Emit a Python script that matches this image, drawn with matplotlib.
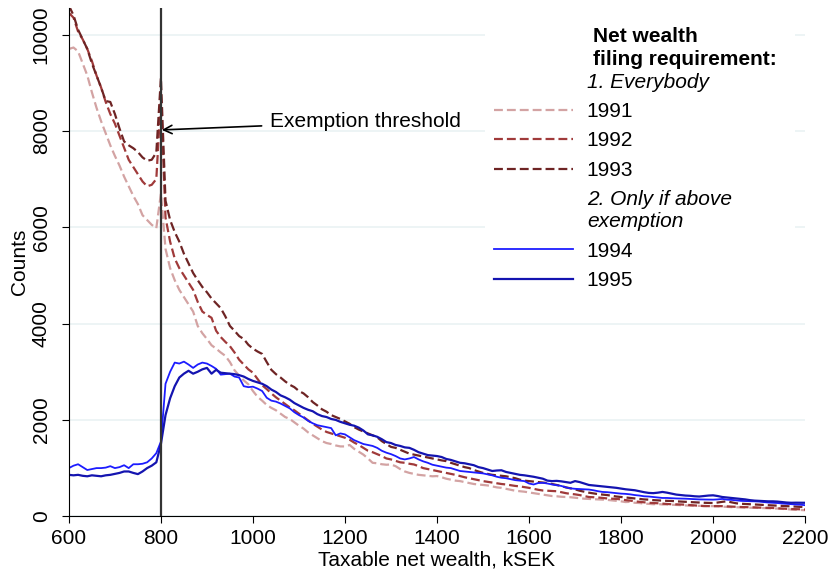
import numpy as np
import matplotlib.pyplot as plt
from matplotlib.lines import Line2D
from matplotlib.patches import Rectangle

plt.rcParams['font.family'] = ['Liberation Sans', 'DejaVu Sans']

# taxable net wealth bins, kSEK (10 kSEK wide)
wealth = np.arange(600, 2201, 10)

counts_1991 = [
    9700, 9730, 9650, 9400, 9150, 8800, 8480, 8200, 7950, 7700,
    7480, 7280, 7050, 6850, 6650, 6480, 6250, 6150, 6050, 5980,
    6700, 5550, 5150, 4900, 4700, 4550, 4400, 4250, 3950, 3800,
    3680, 3550, 3480, 3400, 3330, 3200, 3030, 2920, 2820, 2740,
    2600, 2480, 2400, 2310, 2250, 2200, 2130, 2060, 2020, 1950,
    1880, 1820, 1740, 1680, 1620, 1560, 1520, 1500, 1470, 1450,
    1450, 1480, 1400, 1340, 1280, 1200, 1110, 1100, 1080, 1070,
    1075, 1040, 980, 930, 900, 880, 860, 850, 840, 830,
    835, 810, 780, 760, 740, 730, 710, 690, 670, 660,
    650, 640, 620, 600, 590, 570, 550, 530, 520, 510,
    495, 480, 465, 450, 435, 420, 415, 405, 400, 395,
    385, 375, 365, 360, 355, 350, 345, 340, 330, 320,
    310, 295, 300, 280, 275, 262, 258, 250, 255, 245,
    245, 240, 235, 230, 225, 220, 218, 215, 212, 210,
    210, 205, 200, 195, 190, 188, 185, 180, 178, 175,
    172, 170, 165, 162, 160, 155, 148, 140, 135, 130,
    125]

counts_1992 = [
    10450, 10350, 10060, 9900, 9700, 9450, 9150, 8900, 8600, 8350,
    8150, 7900, 7650, 7400, 7250, 7100, 6950, 6850, 6880, 7000,
    8700, 6200, 5700, 5350, 5150, 5000, 4850, 4700, 4450, 4250,
    4180, 4120, 3850, 3720, 3620, 3530, 3400, 3250, 3150, 3050,
    2980, 2850, 2720, 2640, 2550, 2470, 2400, 2330, 2260, 2200,
    2130, 2060, 1990, 1920, 1860, 1800, 1750, 1720, 1690, 1660,
    1630, 1590, 1530, 1480, 1420, 1360, 1330, 1290, 1250, 1200,
    1180, 1150, 1120, 1110, 1090, 1075, 1040, 1000, 980, 960,
    940, 920, 900, 880, 860, 835, 810, 790, 770, 750,
    730, 715, 700, 685, 670, 660, 645, 630, 620, 605,
    590, 570, 550, 535, 530, 525, 520, 500, 480, 465,
    455, 440, 420, 400, 395, 390, 380, 370, 365, 360,
    350, 335, 325, 310, 300, 290, 280, 275, 270, 262,
    255, 250, 248, 245, 240, 232, 225, 218, 212, 210,
    210, 212, 210, 205, 200, 195, 192, 190, 188, 185,
    180, 178, 175, 172, 165, 160, 155, 150, 148, 145,
    140]

counts_1993 = [
    10600, 10400, 10100, 9900, 9700, 9400, 9150, 8900, 8620, 8600,
    8350, 8050, 7780, 7700, 7640, 7560, 7450, 7380, 7400, 7550,
    9100, 6550, 6150, 5900, 5700, 5450, 5250, 5050, 4900, 4760,
    4650, 4520, 4420, 4320, 4150, 3950, 3850, 3740, 3680, 3560,
    3480, 3420, 3370, 3200, 3040, 2950, 2880, 2800, 2730, 2680,
    2600, 2550, 2470, 2370, 2300, 2220, 2170, 2100, 2060, 2020,
    1970, 1920, 1850, 1800, 1760, 1720, 1680, 1640, 1560, 1500,
    1440, 1420, 1380, 1340, 1300, 1280, 1260, 1240, 1220, 1200,
    1180, 1160, 1145, 1110, 1080, 1050, 1020, 1000, 960, 930,
    900, 880, 860, 850, 840, 830, 810, 790, 760, 740,
    730, 720, 710, 700, 690, 670, 650, 630, 600, 580,
    560, 530, 510, 490, 475, 460, 450, 440, 425, 410,
    400, 390, 380, 370, 360, 350, 345, 335, 330, 325,
    320, 318, 310, 305, 300, 295, 290, 285, 280, 278,
    275, 285, 300, 310, 290, 270, 260, 255, 250, 245,
    240, 235, 230, 225, 220, 215, 210, 205, 200, 195,
    190]

counts_1994 = [
    1000, 1050, 1080, 1020, 960, 980, 1000, 1000, 1010, 1040,
    1000, 1020, 1060, 1000, 1080, 1080, 1090, 1120, 1200, 1310,
    1550, 2750, 3000, 3190, 3170, 3210, 3150, 3080, 3150, 3190,
    3170, 3120, 3060, 2940, 2950, 2960, 2900, 2880, 2700, 2680,
    2690, 2650, 2600, 2460, 2400, 2380, 2340, 2290, 2240, 2160,
    2100, 2050, 1980, 1930, 1890, 1870, 1850, 1830, 1680, 1720,
    1700, 1640, 1580, 1540, 1500, 1480, 1460, 1420, 1360, 1320,
    1290, 1250, 1200, 1180, 1200, 1230, 1180, 1140, 1110, 1070,
    1050, 1030, 1010, 1000, 970, 940, 930, 920, 910, 900,
    890, 870, 850, 820, 800, 790, 770, 750, 740, 730,
    680, 660, 690, 695, 680, 660, 645, 630, 600, 580,
    570, 565, 560, 555, 540, 520, 505, 500, 490, 480,
    470, 465, 455, 440, 430, 415, 410, 400, 390, 380,
    380, 375, 370, 368, 365, 360, 355, 350, 348, 345,
    345, 350, 360, 345, 340, 330, 320, 315, 312, 310,
    305, 295, 285, 280, 275, 265, 258, 252, 245, 240,
    230]

counts_1995 = [
    860, 850, 860, 840, 830, 850, 840, 830, 850, 860,
    880, 900, 930, 930, 900, 875, 930, 1000, 1050, 1120,
    1500, 2100, 2450, 2700, 2880, 2960, 3020, 2960, 3000, 3050,
    3080, 2960, 3040, 2980, 2970, 2960, 2950, 2930, 2900, 2850,
    2810, 2780, 2750, 2700, 2630, 2580, 2510, 2470, 2420, 2350,
    2300, 2250, 2210, 2180, 2120, 2080, 2060, 2020, 2000, 1960,
    1930, 1900, 1880, 1840, 1780, 1700, 1680, 1650, 1600, 1540,
    1520, 1480, 1460, 1430, 1420, 1380, 1330, 1300, 1270, 1260,
    1250, 1230, 1190, 1170, 1140, 1110, 1100, 1080, 1060, 1020,
    1000, 970, 940, 950, 955, 920, 900, 880, 860, 850,
    835, 820, 800, 780, 740, 730, 735, 725, 710, 695,
    730, 710, 680, 650, 640, 630, 620, 610, 600, 590,
    575, 560, 550, 540, 520, 500, 485, 480, 490, 505,
    490, 470, 450, 440, 430, 425, 415, 410, 420, 430,
    435, 420, 400, 390, 380, 370, 360, 350, 335, 325,
    320, 315, 310, 310, 305, 295, 285, 280, 282, 280,
    280]

fs = 15

fig, ax = plt.subplots(figsize=(8.3, 5.73), dpi=100)
fig.subplots_adjust(left=0.083, right=0.970, bottom=0.099, top=0.986)

dash = (4.0, 1.8)
l91, = ax.plot(wealth, counts_1991, color='#d3a3a3', lw=1.6, dashes=dash)
l92, = ax.plot(wealth, counts_1992, color='#a03a3a', lw=1.6, dashes=dash)
l93, = ax.plot(wealth, counts_1993, color='#6e2424', lw=1.6, dashes=dash)
l94, = ax.plot(wealth, counts_1994, color='#1c1cff', lw=1.3)
l95, = ax.plot(wealth, counts_1995, color='#1414b0', lw=1.6)

ax.axvline(800, color='#333333', lw=1.6, zorder=3)

ax.annotate('Exemption threshold', xy=(802, 8020), xytext=(1037, 8190),
            fontsize=fs, va='center',
            arrowprops=dict(arrowstyle='->', color='black', lw=1.2,
                            shrinkA=4, shrinkB=0))

ax.set_xlim(600, 2200)
ax.set_ylim(0, 10550)
ax.set_xticks(range(600, 2201, 200))
ax.set_yticks(range(0, 10001, 2000))
ax.tick_params(labelsize=fs, length=5, direction='out')
ax.tick_params(axis='x', pad=4)
ax.tick_params(axis='y', pad=8)
for lab in ax.get_yticklabels():
    lab.set_rotation(90)
    lab.set_va('center')
ax.grid(axis='y', color='#eaf2f3', lw=1.2)
ax.set_axisbelow(True)
ax.spines['top'].set_visible(False)
ax.spines['right'].set_visible(False)
ax.set_xlabel('Taxable net wealth, kSEK', fontsize=fs, labelpad=2)
ax.set_ylabel('Counts', fontsize=fs, labelpad=2)

# white legend area over the gridlines
ax.add_patch(Rectangle((0.565, 0.435), 0.421, 0.56, transform=ax.transAxes,
                       facecolor='white', edgecolor='none', zorder=1.5))

# legend: blank title keeps room for the bold heading drawn on top
blank = Line2D([], [], color='none')
handles = [blank, l91, l92, l93, blank, l94, l95]
labels = ['1. Everybody', '1991', '1992', '1993',
          '2. Only if above\nexemption', '1994', '1995']
leg = ax.legend(handles, labels, loc='upper left',
                bbox_to_anchor=(0.555, 0.99), fontsize=fs,
                title=' \n ', title_fontsize=12, alignment='left',
                frameon=False, handlelength=3.8,
                handletextpad=0.65, labelspacing=0.5, borderpad=0.3)
texts = leg.get_texts()
texts[0].set_fontstyle('italic')
texts[4].set_fontstyle('italic')

ax.text(0.712, 0.963, 'Net wealth\nfiling requirement:', transform=ax.transAxes,
        fontsize=fs, fontweight='bold', va='top', ha='left', zorder=6,
        linespacing=1.25)

fig.savefig('out.png')
